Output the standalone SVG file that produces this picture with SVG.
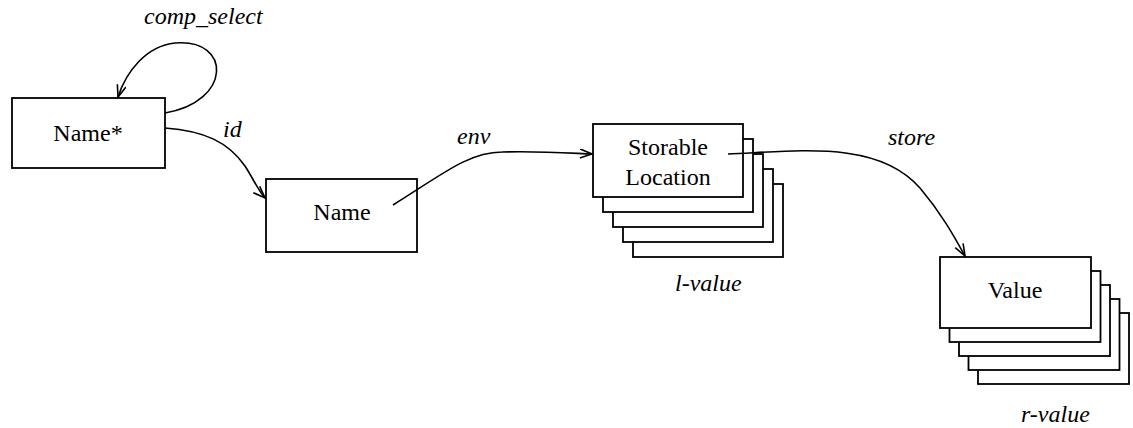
<svg xmlns="http://www.w3.org/2000/svg" width="1133" height="428" viewBox="0 0 1133 428">
  <defs>
    <style>
      .box { fill: #fff; stroke: #000; stroke-width: 1.8; }
      .lbl { font-family: "Liberation Serif", "Times New Roman", serif; font-size: 24px; fill: #000; text-anchor: middle; }
      .it { font-family: "Liberation Serif", "Times New Roman", serif; font-size: 24px; font-style: italic; fill: #000; }
      .edge { fill: none; stroke: #000; stroke-width: 1.6; marker-end: url(#arrow); }
    </style>
    <marker id="arrow" markerUnits="userSpaceOnUse" markerWidth="16" markerHeight="12" refX="13" refY="5" orient="auto">
      <path d="M1,0.5 L13,5 L1,9.5" fill="none" stroke="#000" stroke-width="1.6"/>
    </marker>
  </defs>

  <rect width="1133" height="428" fill="#fff"/>

  <!-- Name* -->
  <g id="name-star">
    <rect class="box" x="12" y="98" width="153" height="70"/>
    <text class="lbl" x="88" y="141">Name*</text>
  </g>

  <!-- Name -->
  <g id="name">
    <rect class="box" x="266" y="179" width="151" height="73"/>
    <text class="lbl" x="342" y="220">Name</text>
  </g>

  <!-- Storable Location stack (l-value) -->
  <g id="storable-location">
    <rect class="box" x="633" y="184" width="150" height="73"/>
    <rect class="box" x="623" y="169" width="150" height="73"/>
    <rect class="box" x="613" y="154" width="150" height="73"/>
    <rect class="box" x="603" y="139" width="150" height="73"/>
    <rect class="box" x="593" y="124" width="150" height="73"/>
    <text class="lbl" x="668" y="155">Storable</text>
    <text class="lbl" x="668" y="185">Location</text>
    <text class="it" x="675" y="291">l-value</text>
  </g>

  <!-- Value stack (r-value) -->
  <g id="value">
    <rect class="box" x="978" y="313" width="151" height="71"/>
    <rect class="box" x="968.5" y="299" width="151" height="71"/>
    <rect class="box" x="959" y="285" width="151" height="71"/>
    <rect class="box" x="949.5" y="271" width="151" height="71"/>
    <rect class="box" x="940" y="257" width="151" height="71"/>
    <text class="lbl" x="1015" y="298">Value</text>
    <text class="it" x="1021" y="422">r-value</text>
  </g>

  <!-- connectors -->
  <g id="edges">
    <path class="edge" d="M165,113 C232,102 232,38 175,43 C146,46 126,72 118,97"/>
    <text class="it" x="144" y="24">comp_select</text>

    <path class="edge" d="M165,128 C205,131 228,142 245,166 C254,180 259,192 265,198"/>
    <text class="it" x="223" y="137">id</text>

    <path class="edge" d="M393,205 C440,176 468,152 502,152 C540,151 568,153 592,154"/>
    <text class="it" x="457" y="144">env</text>

    <path class="edge" d="M728,154 C800,151 878,140 920,188 C942,214 955,238 965,256"/>
    <text class="it" x="888" y="145">store</text>
  </g>
</svg>
